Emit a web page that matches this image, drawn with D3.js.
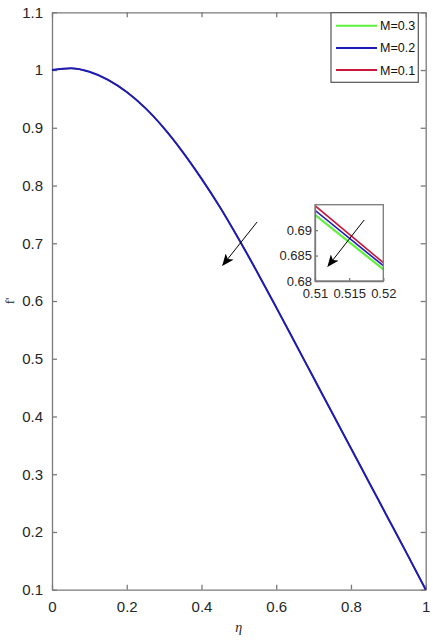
<!DOCTYPE html>
<html><head><meta charset="utf-8">
<script src="https://cdn.jsdelivr.net/npm/d3@7"></script>
<style>body{margin:0;background:#fff;} svg{display:block;}</style>
</head><body>
<script>
// ---- data ----
const eta = [0,0.05,0.1,0.15,0.2,0.25,0.3,0.35,0.4,0.45,0.5,0.55,0.6,0.65,0.7,0.75,0.8,0.85,0.9,0.95,1.0];
const fpM02 = [1.000,1.003,0.997,0.983,0.962,0.934,0.899,0.858,0.812,0.762,0.707,0.649,0.589,0.528,0.467,0.406,0.345,0.284,0.223,0.162,0.100];
const seriesNames = ["M=0.3","M=0.2","M=0.1"];
const seriesColors = ["#5ef03a","#1c1cb4","#c8163c"];
const xTicks = [0,0.2,0.4,0.6,0.8,1];
const yTicks = [0.1,0.2,0.3,0.4,0.5,0.6,0.7,0.8,0.9,1,1.1];
// inset (zoomed) data
const insetEta = [0.51,0.52];
const insetM03 = [0.6930,0.6823];
const insetM02 = [0.6939,0.6830];
const insetM01 = [0.6948,0.6836];
const insetXTicks = [0.51,0.515,0.52];
const insetYTicks = [0.68,0.685,0.69];

const W=433,H=640;
const svg=d3.select("body").append("svg").attr("width",W).attr("height",H);
const axisCol="#7a7a7a", txtCol="#262626";
const L=52,R=425.7,T=12.3,B=589.7;
const x=d3.scaleLinear().domain([0,1]).range([L,R]);
const y=d3.scaleLinear().domain([0.1,1.1]).range([B,T]);

// axes
function styleAxis(g){g.selectAll("path").attr("stroke",axisCol).attr("stroke-width",1.3);
  g.selectAll("line").attr("stroke",axisCol).attr("stroke-width",1.3);
  g.selectAll("text").attr("fill",txtCol).style("font-family","Liberation Sans, Arial, sans-serif");}
const fmt=d=>String(+d.toFixed(3));
svg.append("g").attr("transform",`translate(0,${B})`)
  .call(d3.axisBottom(x).tickValues(xTicks).tickFormat(fmt).tickSizeInner(-5).tickSizeOuter(0).tickPadding(12))
  .call(styleAxis).call(g=>g.selectAll("text").style("font-size","15px"));
svg.append("g").attr("transform",`translate(${L},0)`)
  .call(d3.axisLeft(y).tickValues(yTicks).tickFormat(fmt).tickSizeInner(-5).tickSizeOuter(0).tickPadding(9))
  .call(styleAxis).call(g=>g.selectAll("text").style("font-size","15px"));
svg.append("g").attr("transform",`translate(0,${T})`)
  .call(d3.axisTop(x).tickValues(xTicks).tickFormat("").tickSizeInner(-5).tickSizeOuter(0)).call(styleAxis);
svg.append("g").attr("transform",`translate(${R},0)`)
  .call(d3.axisRight(y).tickValues(yTicks).tickFormat("").tickSizeInner(-5).tickSizeOuter(0)).call(styleAxis);

// curves (overlapping at this scale)
const line=d3.line().x((d,i)=>x(eta[i])).y(d=>y(d)).curve(d3.curveMonotoneX);
[[0,1.2],[2,1.2],[1,2]].forEach(([k,w])=>{
  svg.append("path").datum(fpM02).attr("d",line).attr("fill","none")
    .attr("stroke",seriesColors[k]).attr("stroke-width",w);
});

// labels
svg.append("text").attr("x",x(0.5)).attr("y",632).attr("text-anchor","middle")
  .style("font-family","Liberation Serif, serif").style("font-style","italic").style("font-size","14px")
  .attr("fill",txtCol).text("η");
svg.append("text").attr("transform",`translate(14,${y(0.6)}) rotate(-90)`).attr("text-anchor","middle")
  .style("font-family","Liberation Serif, serif").style("font-size","13px").attr("fill",txtCol).text("f'");

// arrow marker
const defs=svg.append("defs");
defs.append("marker").attr("id","ah").attr("viewBox","0 0 12 10").attr("refX",11).attr("refY",5)
  .attr("markerWidth",12).attr("markerHeight",10).attr("markerUnits","userSpaceOnUse").attr("orient","auto")
  .append("path").attr("d","M0,0 L12,5 L0,10 L3,5 Z").attr("fill","#000");

// main arrow
const mainArrow=[[0.549,0.737],[0.457,0.662]];
svg.append("line").attr("x1",x(mainArrow[0][0])).attr("y1",y(mainArrow[0][1]))
  .attr("x2",x(mainArrow[1][0])).attr("y2",y(mainArrow[1][1]))
  .attr("stroke","#000").attr("stroke-width",1).attr("marker-end","url(#ah)");

// inset
const iL=315,iR=383.3,iT=204.7,iB=281;
const xi=d3.scaleLinear().domain([0.51,0.52]).range([iL,iR]);
const yi=d3.scaleLinear().domain([0.68,0.695]).range([iB,iT]);
svg.append("rect").attr("x",iL).attr("y",iT).attr("width",iR-iL).attr("height",iB-iT).attr("fill","#fff");
defs.append("clipPath").attr("id","ic").append("rect").attr("x",iL).attr("y",iT).attr("width",iR-iL).attr("height",iB-iT);
const iline=d3.line().x((d,i)=>xi(insetEta[i])).y(d=>yi(d));
const ig=svg.append("g").attr("clip-path","url(#ic)");
[[insetM03,0,2.2],[insetM02,1,1.6],[insetM01,2,1.6]].forEach(([arr,k,w])=>{
  ig.append("path").datum(arr).attr("d",iline).attr("fill","none").attr("stroke",seriesColors[k]).attr("stroke-width",w);
});
svg.append("g").attr("transform",`translate(0,${iB})`)
  .call(d3.axisBottom(xi).tickValues(insetXTicks).tickFormat(fmt).tickSizeInner(-3).tickSizeOuter(0).tickPadding(8))
  .call(styleAxis).call(g=>g.selectAll("text").style("font-size","13px"));
svg.append("g").attr("transform",`translate(${iL},0)`)
  .call(d3.axisLeft(yi).tickValues(insetYTicks).tickFormat(fmt).tickSizeInner(-3).tickSizeOuter(0).tickPadding(3))
  .call(styleAxis).call(g=>g.selectAll("text").style("font-size","13px"));
svg.append("rect").attr("x",iL).attr("y",iT).attr("width",iR-iL).attr("height",iB-iT)
  .attr("fill","none").attr("stroke",axisCol).attr("stroke-width",1.3);
const insetArrow=[[0.5172,0.6920],[0.5119,0.6829]];
svg.append("line").attr("x1",xi(insetArrow[0][0])).attr("y1",yi(insetArrow[0][1]))
  .attr("x2",xi(insetArrow[1][0])).attr("y2",yi(insetArrow[1][1]))
  .attr("stroke","#000").attr("stroke-width",1).attr("marker-end","url(#ah)");

// legend
const lg=svg.append("g");
lg.append("rect").attr("x",331).attr("y",12.7).attr("width",87.3).attr("height",69.6)
  .attr("fill","#fff").attr("stroke","#555").attr("stroke-width",1.2);
seriesNames.forEach((n,i)=>{
  const yy=25.7+i*22.2;
  lg.append("line").attr("x1",336).attr("x2",377).attr("y1",yy).attr("y2",yy)
    .attr("stroke",seriesColors[i]).attr("stroke-width",2);
  lg.append("text").attr("x",380).attr("y",yy+4.5).style("font-family","Liberation Sans, Arial, sans-serif")
    .style("font-size","12.5px").attr("fill","#111").text(n);
});
</script>
</body></html>
